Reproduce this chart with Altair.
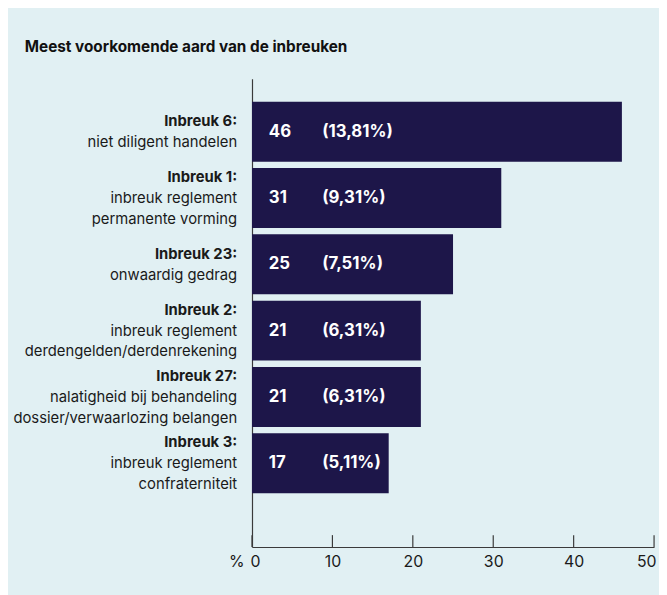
import altair as alt
import pandas as pd

keys = ["i6", "i1", "i23", "i2", "i27", "i3"]
headers = ["Inbreuk 6:", "Inbreuk 1:", "Inbreuk 23:", "Inbreuk 2:", "Inbreuk 27:", "Inbreuk 3:"]
descriptions = [
    ["niet diligent handelen"],
    ["inbreuk reglement", "permanente vorming"],
    ["onwaardig gedrag"],
    ["inbreuk reglement", "derdengelden/derdenrekening"],
    ["nalatigheid bij behandeling", "dossier/verwaarlozing belangen"],
    ["inbreuk reglement", "confraterniteit"],
]
counts = [46, 31, 25, 21, 21, 17]
pct_labels = ["(13,81%)", "(9,31%)", "(7,51%)", "(6,31%)", "(6,31%)", "(5,11%)"]
tick_values = [0, 10, 20, 30, 40, 50]

BG = "#e1f0f3"
BAR = "#1d1649"
INK = "#1a1a1a"
FONT = "Inter"
LH = 21  # line height of the category labels

df = pd.DataFrame({"key": keys, "count": counts, "pct": pct_labels})

# one row per label line; "slot" counts half-lines so both 2- and 3-line labels centre on the bar
rows = []
for k, h, d in zip(keys, headers, descriptions):
    start = 0 if len(d) == 2 else 1
    rows.append({"key": k, "slot": start, "txt": h})
    for i, line in enumerate(d):
        rows.append({"key": k, "slot": start + 2 * (i + 1), "txt": line})
lab_df = pd.DataFrame(rows)
ticks_df = pd.DataFrame({"t": tick_values})

W, H = 407, 474

yscale = alt.Scale(domain=keys, paddingInner=0.095, paddingOuter=0.58, align=0.3)
xscale = alt.Scale(domain=[0, 50], nice=False)

base = alt.Chart(df)

bars = base.mark_bar(color=BAR).encode(
    x=alt.X("count:Q", scale=xscale,
            axis=alt.Axis(values=tick_values, ticks=False, grid=False, domain=True,
                          domainColor="#3a3a3a", domainWidth=1.2, labelFlush=True,
                          labelFlushOffset=2,
                          labelFont=FONT, labelFontSize=16, labelColor=INK, labelPadding=7,
                          title="%", titleFont=FONT, titleFontSize=16, titleFontWeight="normal",
                          titleColor=INK, titleAngle=0, titleX=-8, titleY=20,
                          titleAlign="right", titleBaseline="alphabetic")),
    y=alt.Y("key:N", scale=yscale, sort=keys,
            axis=alt.Axis(labels=False, ticks=False, grid=False, title=None, domain=True,
                          domainColor="#3a3a3a", domainWidth=1.2)),
)

num_text = base.mark_text(align="left", baseline="middle", dx=17, font=FONT,
                          fontSize=17, fontWeight="bold", color="white").encode(
    x=alt.datum(0, scale=xscale), y=alt.Y("key:N", scale=yscale, sort=keys), text="count:Q")

pct_text = base.mark_text(align="left", baseline="middle", dx=71, font=FONT,
                          fontSize=17, fontWeight="bold", color="white").encode(
    x=alt.datum(0, scale=xscale), y=alt.Y("key:N", scale=yscale, sort=keys), text="pct:N")

label_layers = []
for s in range(5):
    label_layers.append(
        alt.Chart(lab_df).transform_filter(alt.datum.slot == s).mark_text(
            align="right", baseline="middle", font=FONT, fontSize=15,
            fontWeight="bold" if s < 2 else "normal", color=INK,
            dy=-LH + s * LH / 2,
        ).encode(
            x=alt.value(-15), y=alt.Y("key:N", scale=yscale, sort=keys), text="txt:N")
    )

tick_marks = alt.Chart(ticks_df).mark_rule(color="#3a3a3a", strokeWidth=1.2).encode(
    x=alt.X("t:Q", scale=xscale), y=alt.value(H - 12), y2=alt.value(H))

chart = alt.layer(bars, num_text, pct_text, *label_layers, tick_marks).properties(
    width=W, height=H,
    title=alt.TitleParams("Meest voorkomende aard van de inbreuken", anchor="start",
                          frame="group", dx=-230, offset=24, font=FONT, fontSize=15.5,
                          fontWeight="bold", color="#111111"),
    autosize=alt.AutoSizeParams(type="none"),
    padding={"left": 247, "top": 68, "right": 5, "bottom": 45},
    background=BG,
).configure_view(stroke=None)

chart.save("out.html", embed_options={"renderer": "svg", "actions": False})
